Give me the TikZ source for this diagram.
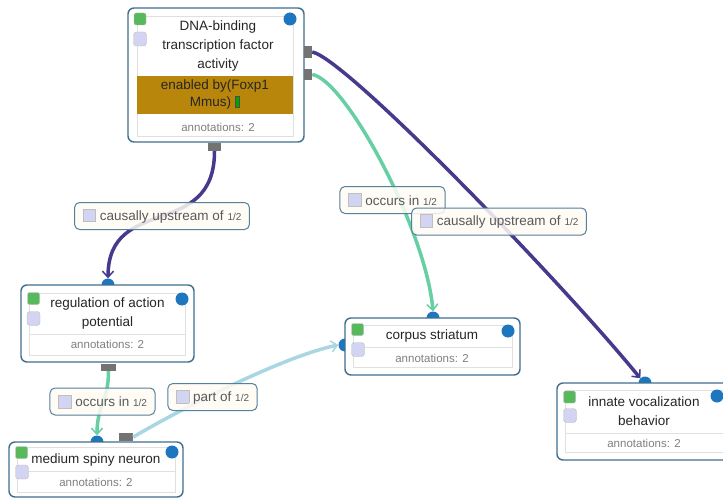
\documentclass[tikz,border=0pt]{standalone}
\usepackage{fontspec}
\setmainfont{Liberation Sans}
\usetikzlibrary{arrows.meta,positioning}
\definecolor{boxc}{HTML}{3F6F8F}
\definecolor{dotc}{HTML}{1E76BE}
\definecolor{purp}{HTML}{463A8C}
\definecolor{mint}{HTML}{66CFA3}
\definecolor{skyb}{HTML}{A8D6E2}
\definecolor{gold}{HTML}{B8860B}
\definecolor{lilac}{HTML}{D3D3F2}
\definecolor{grn}{HTML}{58B85C}
\definecolor{cream}{HTML}{FFFBF4}
\definecolor{labc}{HTML}{54819E}
\newcommand{\lilsq}{{\setlength{\fboxsep}{0pt}\setlength{\fboxrule}{0.8pt}\fcolorbox{black!25}{lilac}{\rule[-1pt]{0pt}{12pt}\hspace{12pt}}}}
\newcommand{\gmark}{{\setlength{\fboxsep}{0pt}\setlength{\fboxrule}{0.6pt}\fcolorbox{black!70}{green!65!black}{\rule{0pt}{10pt}\hspace{4pt}}}}
\newcommand{\half}{{\fontsize{10}{12}\selectfont 1/2}}
\pgfdeclarelayer{bg}
\pgfsetlayers{bg,main}

\begin{document}
\begin{tikzpicture}[x=1pt,y=-1pt,>={Straight Barb[length=6pt,width=11pt,line width=1.5pt]},
  term/.style={draw=boxc,line width=1.4pt,rounded corners=6pt,fill=white},
  frame/.style={draw=black!12,line width=0.6pt},
  title/.style={align=center,text=black!85,font=\fontsize{13.5}{19}\selectfont},
  ann/.style={text=black!50,font=\fontsize{11.5}{13}\selectfont},
  gsq/.style={draw=black!25,fill=grn,rounded corners=2pt,minimum size=12pt,inner sep=0pt},
  lsq/.style={draw=black!25,fill=lilac,rounded corners=3pt,minimum width=13pt,minimum height=14pt,inner sep=0pt},
  dot/.style={circle,fill=dotc,minimum size=13pt,inner sep=0pt},
  port/.style={fill=black!55,inner sep=0pt},
  rel/.style={draw=labc,line width=1pt,fill=cream,fill opacity=0.85,text opacity=1,rounded corners=5pt,
    text=black!65,font=\fontsize{13.5}{16}\selectfont,minimum height=27pt,inner xsep=8pt},
  link/.style={line width=3.5pt,->}]
  \useasboundingbox (0,0) rectangle (723,500);

  % in-ports sit behind the boxes
  \begin{pgfonlayer}{bg}
  \fill[white] (0,0) rectangle (723,500);
  \node[dot] (reg-in) at (108,285) {};
  \node[dot] (msn-in) at (97,442) {};
  \node[dot] (cs-in)  at (433,318) {};
  \node[dot] (cs-lin) at (345,345) {};
  \node[dot] (ivb-in) at (645,383) {};
  \end{pgfonlayer}

  % terms
  \node[term,minimum width=176pt,minimum height=134pt] (dna) at (216,75) {};
  \node[term,minimum width=173pt,minimum height=77pt] (reg) at (107.5,323.5) {};
  \node[term,minimum width=174pt,minimum height=55pt] (msn) at (96,469.5) {};
  \node[term,minimum width=175pt,minimum height=57pt] (cs)  at (432.5,346.5) {};
  \node[term,minimum width=174pt,minimum height=77pt] (ivb) at (644,421.5) {};

  \draw[frame] (137,16) rectangle (293,136);
  \fill[gold] (137,76) rectangle (293,114);
  \draw[frame] (29,293) rectangle (185,355) (29,334) -- (185,334);
  \draw[frame] (17,447) rectangle (175,492) (17,471) -- (175,471);
  \draw[frame] (353,325) rectangle (512,367) (353,347) -- (512,347);
  \draw[frame] (565,390) rectangle (723,452) (565,433) -- (723,433);

  \node[title] (dna-t) at (218,46) {DNA-binding\\transcription factor\\activity};
  \node[title,font=\fontsize{13.5}{17}\selectfont] (dna-by) at (215,95) {enabled by(Foxp1\\Mmus) \gmark};
  \node[ann] (dna-a) at (218,127) {annotations: 2};
  \node[title] (reg-t) at (107.5,313.5) {regulation of action\\potential};
  \node[ann] (reg-a) at (107.5,344) {annotations: 2};
  \node[title] (msn-t) at (96,460) {medium spiny neuron};
  \node[ann] (msn-a) at (96,482) {annotations: 2};
  \node[title] (cs-t) at (432,336) {corpus striatum};
  \node[ann] (cs-a) at (432,358) {annotations: 2};
  \node[title] (ivb-t) at (644,411.5) {innate vocalization\\behavior};
  \node[ann] (ivb-a) at (644,443) {annotations: 2};

  \node[gsq] (dna-g) at (140,19) {};     \node[lsq] (dna-l) at (140,39) {};
  \node[gsq] (reg-g) at (33.5,298.5) {}; \node[lsq] (reg-l) at (33.5,318.5) {};
  \node[gsq] (msn-g) at (21.5,452.5) {}; \node[lsq] (msn-l) at (22,472) {};
  \node[gsq] (cs-g) at (357.5,329.5) {}; \node[lsq] (cs-l) at (358,349.5) {};
  \node[gsq] (ivb-g) at (569.5,397) {};  \node[lsq] (ivb-l) at (570,415.5) {};

  \node[dot] (dna-o) at (290,19) {};
  \node[dot] (reg-o) at (182,299) {};
  \node[dot] (msn-o) at (172,452) {};
  \node[dot] (cs-o)  at (508,331) {};
  \node[dot] (ivb-o) at (717,396) {};

  % out-ports
  \node[port,minimum width=8pt,minimum height=12pt] (dna-p1) at (308,52) {};
  \node[port,minimum width=8pt,minimum height=11pt] (dna-p2) at (308,74.5) {};
  \node[port,minimum width=13pt,minimum height=8pt] (dna-pb) at (214.5,147) {};
  \node[port,minimum width=15pt,minimum height=7pt] (reg-pb) at (108.5,367.5) {};
  \node[port,minimum width=14pt,minimum height=8pt] (msn-pt) at (126,437) {};

  % relations
  \draw[link,purp] (dna-pb.south) .. controls +(0,90) and +(0,-85) .. (reg-in.north);
  \draw[link,purp] (dna-p1.east) .. controls +(33,6) and +(-80,-98) .. (ivb-in.north west);
  \draw[link,mint] (dna-p2.east) .. controls +(33,5) and +(-7,-82) .. (cs-in.north);
  \draw[link,mint] (reg-pb.south) .. controls +(0,30) and +(0,-30) .. (msn-in.north);
  \draw[link,skyb] (msn-pt.east) .. controls +(60,-35) and +(-50,10) .. (cs-lin.west);

  \node[rel] (l1) at (162,216) {\lilsq\ causally upstream of \half};
  \node[rel] (l2) at (392.5,200) {\lilsq\ occurs in \half};
  \node[rel] (l3) at (499,221.5) {\lilsq\ causally upstream of \half};
  \node[rel] (l4) at (102.5,401.5) {\lilsq\ occurs in \half};
  \node[rel] (l5) at (212.5,397) {\lilsq\ part of \half};
\end{tikzpicture}
\end{document}
